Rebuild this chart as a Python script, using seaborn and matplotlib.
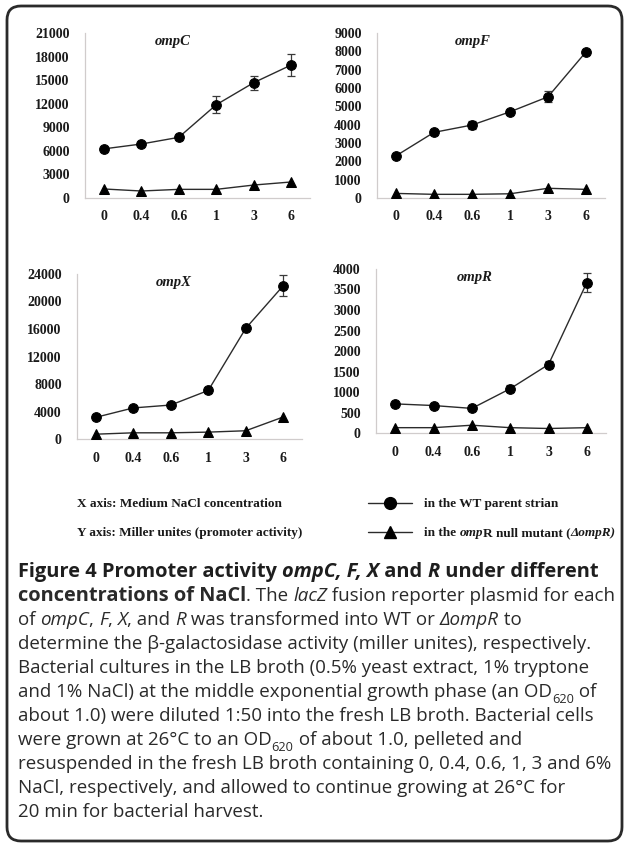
import numpy as np
import pandas as pd
import matplotlib
matplotlib.use("Agg")
import matplotlib.pyplot as plt
import seaborn as sns
from matplotlib.patches import FancyBboxPatch
from matplotlib.lines import Line2D

# ---------------- data ----------------
conc_labels = ["0", "0.4", "0.6", "1", "3", "6"]
genes = ["ompC", "ompF", "ompX", "ompR"]

wt_ompC = [6250, 6870, 7720, 11870, 14680, 16930]
wt_ompC_err = [300, 300, 300, 1100, 900, 1400]
mut_ompC = [1150, 890, 1100, 1100, 1650, 2040]

wt_ompF = [2300, 3580, 3980, 4700, 5520, 7970]
wt_ompF_err = [80, 150, 200, 80, 300, 100]
mut_ompF = [250, 200, 200, 230, 530, 470]

wt_ompX = [3150, 4520, 4940, 7060, 16100, 22300]
wt_ompX_err = [200, 200, 150, 400, 150, 1500]
mut_ompX = [700, 900, 900, 1000, 1200, 3200]

wt_ompR = [710, 670, 600, 1080, 1670, 3670]
wt_ompR_err = [20, 20, 20, 80, 80, 230]
mut_ompR = [130, 130, 190, 130, 110, 130]

y_max = [21000, 9000, 24000, 4000]
y_step = [3000, 1000, 4000, 500]

wt_all = [wt_ompC, wt_ompF, wt_ompX, wt_ompR]
err_all = [wt_ompC_err, wt_ompF_err, wt_ompX_err, wt_ompR_err]
mut_all = [mut_ompC, mut_ompF, mut_ompX, mut_ompR]

rows = []
for g, wt, er, mu in zip(genes, wt_all, err_all, mut_all):
    for i, c in enumerate(conc_labels):
        rows.append(dict(gene=g, pos=i, conc=c, strain="WT", value=wt[i], err=er[i]))
        rows.append(dict(gene=g, pos=i, conc=c, strain="mut", value=mu[i], err=0))
df = pd.DataFrame(rows)

# ---------------- figure ----------------
W, H = 624, 847
sns.set_style("white")
plt.rcParams["font.family"] = ["Liberation Serif", "DejaVu Serif"]

fig = plt.figure(figsize=(W / 100, H / 100), dpi=100)
fig.patch.set_facecolor("white")
bg = fig.add_axes([0, 0, 1, 1], zorder=-5)
bg.set_xlim(0, W)
bg.set_ylim(H, 0)
bg.axis("off")

# rounded frame
frame = FancyBboxPatch((7, 6), 615, 835, boxstyle="round,pad=0,rounding_size=14",
                       fill=False, edgecolor="#2a2a2a", linewidth=2.0)
bg.add_patch(frame)

# axes boxes in pixels: left, right, top, bottom
boxes = [(85, 310, 33, 198), (377, 605, 33, 198), (77, 302, 274, 439), (376, 606, 269, 433)]
title_fx = [0.39, 0.42, 0.43, 0.43]

line_col = "#2b2b2b"
for k, g in enumerate(genes):
    l, r, t, b = boxes[k]
    ax = fig.add_axes([l / W, 1 - b / H, (r - l) / W, (b - t) / H])
    ax.set_facecolor("none")
    sub = df[df.gene == g]
    sns.lineplot(data=sub, x="pos", y="value", style="strain", style_order=["WT", "mut"],
                 markers={"WT": "o", "mut": "^"}, dashes=False, color=line_col,
                 markersize=7, linewidth=1.0, markeredgecolor="black",
                 markerfacecolor="black", legend=False, errorbar=None, ax=ax, zorder=3)
    wsub = sub[sub.strain == "WT"]
    ax.errorbar(wsub.pos, wsub.value, yerr=wsub.err, fmt="none", ecolor="#3a3a3a",
                elinewidth=0.9, capsize=3.2, capthick=0.9, zorder=2)
    ax.set_xlim(-0.5, 5.5)
    ax.set_ylim(0, y_max[k])
    ax.set_yticks(np.arange(0, y_max[k] + 1, y_step[k]))
    ax.set_xticks(range(len(conc_labels)))
    ax.set_xticklabels(conc_labels)
    ax.set_xlabel("")
    ax.set_ylabel("")
    for s in ["top", "right"]:
        ax.spines[s].set_visible(False)
    for s in ["left", "bottom"]:
        ax.spines[s].set_color("#d0cccc")
        ax.spines[s].set_linewidth(0.9)
    ax.tick_params(axis="y", length=0, pad=11, labelsize=10)
    ax.tick_params(axis="x", length=0, pad=9, labelsize=10)
    for lab in ax.get_xticklabels() + ax.get_yticklabels():
        lab.set_fontweight("bold")
        lab.set_color("#1a1a1a")
    ax.text(title_fx[k], 0.985, g, transform=ax.transAxes, ha="center", va="top",
            fontsize=10.5, fontweight="bold", fontstyle="italic", color="#1a1a1a")
    ax.grid(False)

renderer = fig.canvas.get_renderer()


def text_w(s, **kw):
    t1 = bg.text(0, 0, s + "|", **kw)
    w1 = t1.get_window_extent(renderer).width
    t1.remove()
    t2 = bg.text(0, 0, "|", **kw)
    w2 = t2.get_window_extent(renderer).width
    t2.remove()
    return w1 - w2


def draw_runs(x0, ybase, runs, size, family, color, bsize=None):
    x = x0
    for run in runs:
        txt, wt, st = run[0], run[1], run[2]
        sub = len(run) > 3 and run[3]
        base = bsize if (bsize is not None and wt == "bold") else size
        fs = base * 0.68 if sub else base
        yy = ybase + (base * 0.42 if sub else 0)
        kw = dict(fontsize=fs, fontweight=wt, fontstyle=st, family=family, color=color)
        bg.text(x, yy, txt, va="baseline", ha="left", **kw)
        x += text_w(txt, **kw)


# ---------------- legend block ----------------
serif = ["Liberation Serif", "DejaVu Serif"]
leg_size = 9.5
bg.text(77, 507, "X axis: Medium NaCl concentration", fontsize=leg_size, fontweight="bold",
        family=serif, color="#1a1a1a", va="baseline")
bg.text(77, 536, "Y axis: Miller unites (promoter activity)", fontsize=leg_size, fontweight="bold",
        family=serif, color="#1a1a1a", va="baseline")

for yk, mk in [(503, "o"), (532, "^")]:
    bg.add_line(Line2D([368, 412], [yk, yk], color=line_col, lw=1.0))
    bg.add_line(Line2D([390], [yk], marker=mk, markersize=8.5, color="black", lw=0))

draw_runs(424, 507, [("in the WT parent strian", "bold", "normal")], leg_size, serif, "#1a1a1a")
draw_runs(424, 536, [("in the ", "bold", "normal"), ("omp", "bold", "italic"),
                     ("R null mutant (", "bold", "normal"), ("\u0394ompR)", "bold", "italic")],
          leg_size, serif, "#1a1a1a")

# ---------------- caption ----------------
sans = ["Open Sans", "DejaVu Sans"]
ref_line = "resuspended in the fresh LB broth containing 0, 0.4, 0.6, 1, 3 and 6%"
w10 = text_w(ref_line, fontsize=10, family=sans)
cap_size = 10 * (612 - 18) / w10

B, I, N = "bold", "italic", "normal"
cap_lines = [
    [("Figure 4 Promoter activity ", B, N), ("ompC, F, X", B, I), (" and ", B, N), ("R", B, I),
     (" under different", B, N)],
    [("concentrations of NaCl", B, N), (". The ", N, N), ("lacZ", N, I),
     (" fusion reporter plasmid for each", N, N)],
    [("of ", N, N), ("ompC", N, I), (", ", N, N), ("F", N, I), (", ", N, N), ("X", N, I),
     (", and ", N, N), ("R", N, I), (" was transformed into WT or ", N, N), ("\u0394ompR", N, I),
     (" to", N, N)],
    [("determine the \u03b2-galactosidase activity (miller unites), respectively.", N, N)],
    [("Bacterial cultures in the LB broth (0.5% yeast extract, 1% tryptone", N, N)],
    [("and 1% NaCl) at the middle exponential growth phase (an OD", N, N), ("620", N, N, True),
     (" of", N, N)],
    [("about 1.0) were diluted 1:50 into the fresh LB broth. Bacterial cells", N, N)],
    [("were grown at 26\u00b0C to an OD", N, N), ("620", N, N, True),
     (" of about 1.0, pelleted and", N, N)],
    [(ref_line, N, N)],
    [("NaCl, respectively, and allowed to continue growing at 26\u00b0C for", N, N)],
    [("20 min for bacterial harvest.", N, N)],
]
# bold size chosen so that line 2 (bold + regular) spans about the same width
reg_part = sum(text_w(r[0], fontsize=cap_size, fontweight=r[1], fontstyle=r[2], family=sans)
               for r in cap_lines[1][1:])
bold_part10 = text_w(cap_lines[1][0][0], fontsize=10, fontweight="bold", family=sans)
bold_size = 1.015 * 10 * (612 - 18 - reg_part) / bold_part10

for i, runs in enumerate(cap_lines):
    col = "#1e1e1e" if i == 0 else "#2a2a2a"
    draw_runs(18, 577 + 24.0 * i, runs, cap_size, sans, col, bsize=bold_size)

fig.savefig("out.png", dpi=100, facecolor="white")
